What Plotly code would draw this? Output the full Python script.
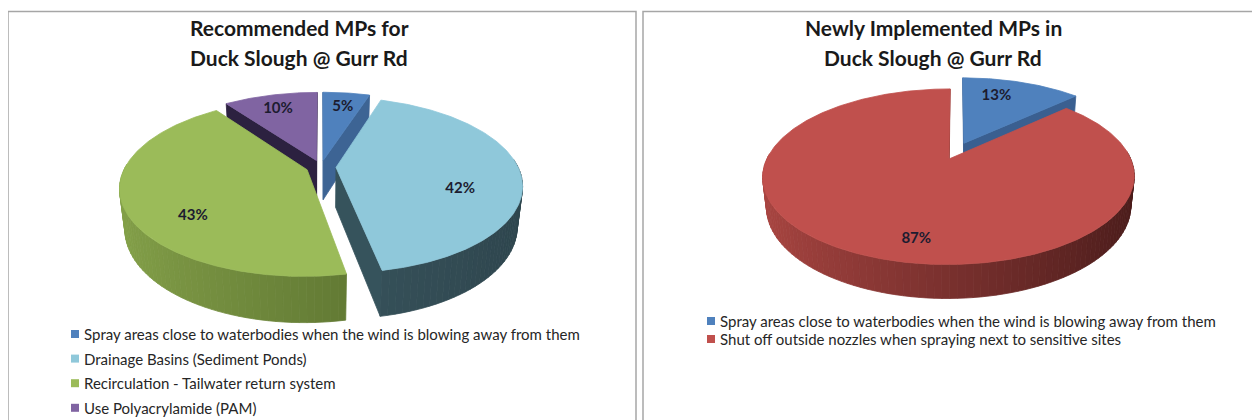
import numpy as np
import plotly.graph_objects as go

# ---------------- data ----------------
left_title = ["Recommended MPs for", "Duck Slough @ Gurr Rd"]
left_categories = [
    "Spray areas close to waterbodies when the wind is blowing away from them",
    "Drainage Basins (Sediment Ponds)",
    "Recirculation - Tailwater return system",
    "Use Polyacrylamide (PAM)",
]
left_values = [5, 42, 43, 10]

right_title = ["Newly Implemented MPs in", "Duck Slough @ Gurr Rd"]
right_categories = [
    "Spray areas close to waterbodies when the wind is blowing away from them",
    "Shut off outside nozzles when spraying next to sensitive sites",
]
right_values = [13, 87]

# ---------------- styles ----------------
left_face = ["#4F81BD", "#8FC8DA", "#9BBB59", "#8064A2"]
left_wall_light = ["#4A72A6", "#3F5E68", "#85A24A", "#3A2D52"]
left_wall_dark = ["#36567E", "#2E454D", "#4B5F25", "#2B2040"]
left_cut = ["#3D6494", "#36535C", "#5D7530", "#2C2140"]

right_face = ["#4F81BD", "#C0504D"]
right_wall_light = ["#3F669A", "#AB4642"]
right_wall_dark = ["#2F4D75", "#481B1A"]
right_cut = ["#3A5F90", "#8B3330"]

FONT = "Lato"
W, H = 1260, 420
OFF = 8  # default page margin of the html body

left_geo = dict(cx=321, cy=167, R=182, phi=np.radians(27.5), D=808, h=46, d=15, fx=0.67)
right_geo = dict(cx=956.5, cy=151, R=178.5, phi=np.radians(27), D=808, h=33, d=19, fx=0.45)


def hex2rgb(c):
    c = c.lstrip("#")
    return np.array([int(c[i:i + 2], 16) for i in (0, 2, 4)], dtype=float)


def mix(c1, c2, t):
    v = hex2rgb(c1) * (1 - t) + hex2rgb(c2) * t
    return "rgb(%d,%d,%d)" % tuple(np.round(v).astype(int))


def project(X, Y, Z, g):
    phi, D = g["phi"], g["D"]
    ys = Y * np.cos(phi) - Z * np.sin(phi)
    zc = Y * np.sin(phi) + Z * np.cos(phi)
    sc = D / (D - zc)
    return g["cx"] + X * sc, g["cy"] - ys * sc


fig = go.Figure()


def poly(xs, ys, color):
    xs = list(xs) + [xs[0]]
    ys = list(ys) + [ys[0]]
    fig.add_trace(go.Scatter(x=xs, y=ys, mode="lines", fill="toself",
                             fillcolor=color, line=dict(color=color, width=0.8),
                             hoverinfo="skip", showlegend=False))


def draw_pie(values, labels, g, face, wl, wd, cut):
    R, h, d = g["R"], g["h"], g["d"]
    phi, D = g["phi"], g["D"]
    total = float(sum(values))
    cum = np.concatenate([[0], np.cumsum(values)]) / total * 360.0
    slices = []
    for i in range(len(values)):
        a0, a1 = cum[i], cum[i + 1]
        b = (a0 + a1) / 2
        sx = d * np.sin(np.radians(b))
        sz = -d * np.cos(np.radians(b))
        slices.append((i, a0, a1, b, sx, sz))
    order = sorted(slices, key=lambda s: -np.cos(np.radians(s[3])))
    camX, camZ = 0.0, D * np.cos(phi)
    for (i, a0, a1, b, sx, sz) in order:
        for e, sign in ((a0, -1), (a1, 1)):
            er = np.radians(e)
            nX, nZ = sign * np.cos(er), sign * np.sin(er)
            pX = sx + 0.5 * R * np.sin(er)
            pZ = sz - 0.5 * R * np.cos(er)
            if nX * (camX - pX) + nZ * (camZ - pZ) > 0:
                rX = sx + R * np.sin(er)
                rZ = sz - R * np.cos(er)
                P = [project(sx, 0, sz, g), project(rX, 0, rZ, g),
                     project(rX, -h, rZ, g), project(sx, -h, sz, g)]
                poly([p[0] for p in P], [p[1] for p in P], cut[i])
        n = max(int((a1 - a0) / 2), 2)
        ang = np.linspace(a0, a1, n + 1)
        segs = []
        for k in range(n):
            t0, t1 = np.radians(ang[k]), np.radians(ang[k + 1])
            m = (t0 + t1) / 2
            if np.cos(m) < 0.08:
                segs.append((t0, t1, m))
        segs.sort(key=lambda s: -np.cos(s[2]))
        for (t0, t1, m) in segs:
            X0, Z0 = sx + R * np.sin(t0), sz - R * np.cos(t0)
            X1, Z1 = sx + R * np.sin(t1), sz - R * np.cos(t1)
            P = [project(X0, 0, Z0, g), project(X1, 0, Z1, g),
                 project(X1, -h, Z1, g), project(X0, -h, Z0, g)]
            t = (np.sin(m) + 1) / 2
            poly([p[0] for p in P], [p[1] for p in P], mix(wl[i], wd[i], t))
        arc = np.radians(np.linspace(a0, a1, max(int((a1 - a0) * 1.5), 4)))
        X = np.concatenate([[sx], sx + R * np.sin(arc)])
        Z = np.concatenate([[sz], sz - R * np.cos(arc)])
        px, py = project(X, np.zeros_like(X), Z, g)
        poly(px, py, face[i])
    q = R * np.cos(phi) / D
    s = R * np.sin(phi)
    Rs = R / np.sqrt(1 - q * q)
    ry = s / (1 - q * q)
    mid = s * q / (1 - q * q)
    lx, ly = [], []
    for (i, a0, a1, b, sx, sz) in slices:
        vx, vy = project(sx, 0, sz, g)
        br = np.radians(b)
        lx.append(vx + g["fx"] * Rs * np.sin(br))
        ly.append(vy + mid - 0.82 * ry * np.cos(br))
    fig.add_trace(go.Scatter(x=lx, y=ly, mode="text", text=labels,
                             textfont=dict(family=FONT, size=15, color="#1C1C30",
                                           weight="bold"),
                             hoverinfo="skip", showlegend=False))


def pct_labels(values):
    tot = float(sum(values))
    return ["%d%%" % round(v / tot * 100) for v in values]


draw_pie(left_values, pct_labels(left_values), left_geo,
         left_face, left_wall_light, left_wall_dark, left_cut)
draw_pie(right_values, pct_labels(right_values), right_geo,
         right_face, right_wall_light, right_wall_dark, right_cut)

annotations = []


def legend(cats, colors, x0, y0, dy):
    ys = [y0 + k * dy for k in range(len(cats))]
    fig.add_trace(go.Scatter(x=[x0] * len(cats), y=ys, mode="markers",
                             marker=dict(symbol="square", size=8, color=colors,
                                         line=dict(width=0)),
                             hoverinfo="skip", showlegend=False))
    for c, y in zip(cats, ys):
        annotations.append(dict(x=x0 + 7, y=y, xref="x", yref="y", text=c,
                                showarrow=False, xanchor="left", yanchor="middle",
                                font=dict(family=FONT, size=15, color="#262626")))


legend(left_categories, left_face, 75, 334, 24.6)
legend(right_categories, right_face, 711, 321, 18)


def title(lines, x, y0):
    for k, t in enumerate(lines):
        annotations.append(dict(x=x, y=y0 + 30 * k, xref="x", yref="y", text="<b>%s</b>" % t,
                                showarrow=False, xanchor="center", yanchor="middle",
                                font=dict(family=FONT, size=21, color="#1A1A1A")))


title(left_title, 299, 27)
title(right_title, 933, 27)

shapes = [
    dict(type="rect", xref="x", yref="y", x0=8, x1=636, y0=11.5, y1=460,
         line=dict(color="#A6A6A6", width=1.5), fillcolor="rgba(0,0,0,0)", layer="below"),
    dict(type="rect", xref="x", yref="y", x0=643, x1=1257, y0=11.5, y1=460,
         line=dict(color="#A6A6A6", width=1.5), fillcolor="rgba(0,0,0,0)", layer="below"),
]

fig.update_layout(
    width=W, height=H, margin=dict(l=0, r=0, t=0, b=0),
    paper_bgcolor="white", plot_bgcolor="white",
    xaxis=dict(range=[OFF, W + OFF], visible=False, fixedrange=True, domain=[0, 1]),
    yaxis=dict(range=[H + OFF, OFF], visible=False, fixedrange=True, domain=[0, 1]),
    annotations=annotations, shapes=shapes, showlegend=False,
)
fig.write_html("out.html")
